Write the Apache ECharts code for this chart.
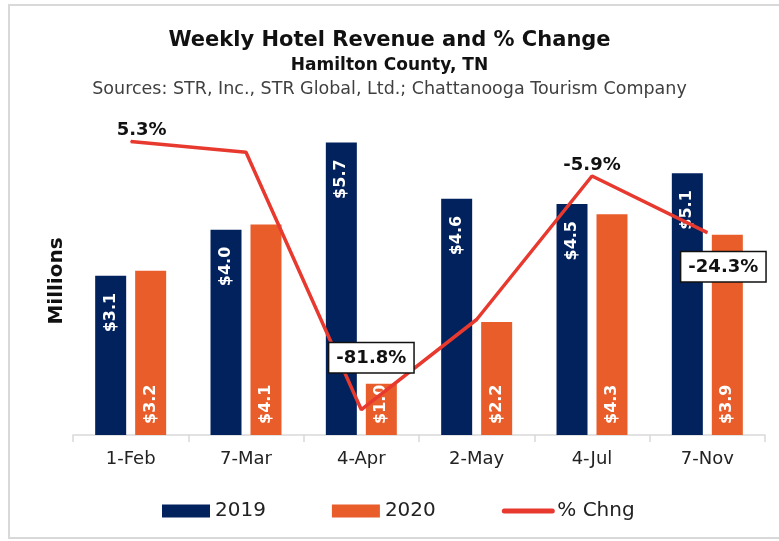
<!DOCTYPE html>
<html>
<head>
<meta charset="utf-8">
<script src="https://cdn.jsdelivr.net/npm/echarts@6/dist/echarts.min.js"></script>
<style>
  html, body { margin: 0; padding: 0; background: #fff; }
  #main { width: 779px; height: 541px; }
</style>
</head>
<body>
<div id="main"></div>
<script>
// weeks shown on the x axis
var weeks = ['1-Feb', '7-Mar', '4-Apr', '2-May', '4-Jul', '7-Nov'];
// weekly revenue, millions of dollars
var rev2019 = [3.1, 4.0, 5.7, 4.6, 4.5, 5.1];
var rev2020 = [3.2, 4.1, 1.0, 2.2, 4.3, 3.9];
// % change 2020 vs 2019
var pctChng = [5.3, 1.8, -81.8, -52.5, -5.9, -24.3];

var FONT = 'DejaVu Sans';
var RED = '#e8392f';

// which % labels show, and how
var boxed = {
    show: true, backgroundColor: '#fff', borderColor: '#111', borderWidth: 1.5,
    padding: [6, 7, 5, 7]
};
var pctLabels = {
    0: { show: true, position: 'top', distance: 2, offset: [11, 0] },
    2: Object.assign({ position: 'top', distance: 5, offset: [10, -32] }, boxed),
    4: { show: true, position: 'top', distance: 1 },
    5: Object.assign({ position: 'bottom', distance: 5, offset: [16, 14] }, boxed)
};

var lineData = pctChng.map(function (v, i) {
    return { value: v, label: pctLabels[i] || { show: false } };
});

var barLabel = {
    show: true, rotate: 90, color: '#fff', fontFamily: FONT, fontSize: 16, fontWeight: 'bold',
    verticalAlign: 'middle',
    formatter: function (p) { return '$' + p.value.toFixed(1); }
};

var chart = echarts.init(document.getElementById('main'));
chart.setOption({
    animation: false,
    backgroundColor: '#fff',
    title: [
        { text: 'Weekly Hotel Revenue and % Change', left: 'center', top: 25,
          textStyle: { fontFamily: FONT, fontSize: 21, fontWeight: 'bold', color: '#111' } },
        { text: 'Hamilton County, TN', left: 'center', top: 52,
          textStyle: { fontFamily: FONT, fontSize: 17, fontWeight: 'bold', color: '#111' } },
        { text: 'Sources: STR, Inc., STR Global, Ltd.; Chattanooga Tourism Company', left: 'center', top: 75,
          textStyle: { fontFamily: FONT, fontSize: 17.5, fontWeight: 'normal', color: '#404040' } }
    ],
    graphic: [{
        type: 'rect', silent: true,
        shape: { x: 9, y: 5, width: 800, height: 533 },
        style: { fill: 'none', stroke: '#d9d9d9', lineWidth: 2 }
    }],
    legend: {
        left: 157, top: 496, itemWidth: 48, itemHeight: 13, itemGap: 66,
        textStyle: { fontFamily: FONT, fontSize: 20, color: '#222' },
        data: [
            { name: '2019', icon: 'rect' },
            { name: '2020', icon: 'rect' },
            { name: '% Chng', itemStyle: { opacity: 0 }, lineStyle: { width: 5, cap: 'round' } }
        ]
    },
    grid: { left: 73, right: 14, top: 127, bottom: 106 },
    xAxis: {
        type: 'category', data: weeks,
        axisLine: { lineStyle: { color: '#d9d9d9', width: 1.5 } },
        axisTick: { show: true, length: 7, lineStyle: { color: '#d9d9d9', width: 1.5 } },
        axisLabel: { margin: 15, fontFamily: FONT, fontSize: 18, color: '#222' }
    },
    yAxis: [{
        type: 'value', min: 0, max: 6,
        name: 'Millions', nameLocation: 'middle', nameRotate: 90, nameGap: 6,
        nameTextStyle: { fontFamily: FONT, fontSize: 20, fontWeight: 'bold', color: '#111' },
        axisLine: { show: false }, axisTick: { show: false },
        axisLabel: { show: false }, splitLine: { show: false }
    }, {
        type: 'value', min: -90, max: 10, show: false
    }],
    series: [{
        name: '2019', type: 'bar', data: rev2019, barWidth: 31, barGap: '29%',
        itemStyle: { color: '#02225e' },
        label: Object.assign({ position: 'insideTop', align: 'right', distance: 17 }, barLabel)
    }, {
        name: '2020', type: 'bar', data: rev2020, barWidth: 31,
        itemStyle: { color: '#e85d2a' },
        label: Object.assign({ position: 'insideBottom', align: 'left', distance: 11 }, barLabel)
    }, {
        name: '% Chng', type: 'line', yAxisIndex: 1, data: lineData, z: 5,
        symbol: 'circle', symbolSize: 1, showSymbol: true,
        lineStyle: { color: RED, width: 3.5 },
        itemStyle: { color: RED },
        label: { fontFamily: FONT, fontSize: 18, fontWeight: 'bold', color: '#111',
                 formatter: function (p) { return p.value.toFixed(1) + '%'; } }
    }]
});
</script>
</body>
</html>
